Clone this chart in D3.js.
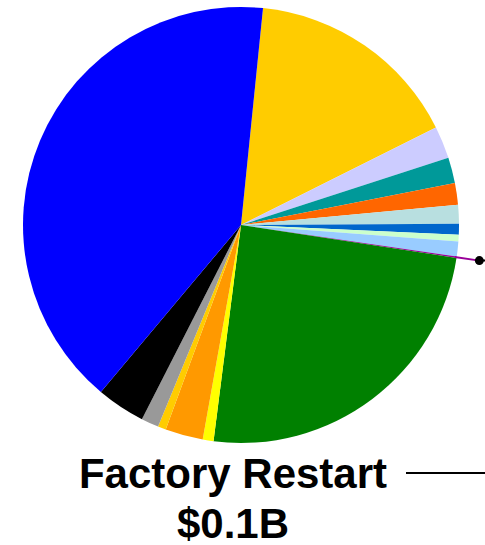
<!DOCTYPE html>
<html>
<head>
<meta charset="utf-8">
<script src="https://cdn.jsdelivr.net/npm/d3@7"></script>
<style>
  body { margin: 0; background: #fff; }
  svg { display: block; }
</style>
</head>
<body>
<div id="chart"></div>
<script>
// slice values (share of total, clockwise from the yellow slice)
var values = [16.0, 2.4, 1.9, 1.6, 1.4, 0.8, 0.5, 1.1, 0.1, 24.6, 0.8, 2.8, 0.6, 1.3, 3.6, 40.5];
var colors = ["#ffcc00", "#ccccff", "#009999", "#ff6600", "#b8dfe0", "#0066cc", "#ccffcc", "#99ccff",
              "#990099", "#008000", "#ffff00", "#ff9900", "#ffcc00", "#999999", "#000000", "#0000ff"];
var labelLines = ["Factory Restart", "$0.1B"];

var width = 485,
    height = 545;

var cx = 241, cy = 225, radius = 218;
var startDeg = 5.8;

var svg = d3.select("#chart")
  .append("svg")
  .attr("width", width)
  .attr("height", height);

var g = svg.append("g")
  .attr("transform", "translate(" + cx + "," + cy + ")");

var pie = d3.pie()
  .sort(null)
  .value(function(d) { return d; })
  .startAngle(startDeg * Math.PI / 180)
  .endAngle((startDeg + 360) * Math.PI / 180);

var arc = d3.arc()
  .innerRadius(0)
  .outerRadius(radius);

var arcs = pie(values);

g.selectAll("path.slice")
  .data(arcs)
  .enter().append("path")
  .attr("class", "slice")
  .attr("d", arc)
  .attr("fill", function(d, i) { return colors[i]; });

// leader for the tiny purple slice
var purple = arcs[8];
var mid = (purple.startAngle + purple.endAngle) / 2;
var p0 = [Math.sin(mid) * (radius - 2), -Math.cos(mid) * (radius - 2)];
var p1 = [Math.sin(mid) * (radius + 23), -Math.cos(mid) * (radius + 23)];

g.append("line")
  .attr("x1", p0[0]).attr("y1", p0[1])
  .attr("x2", p1[0]).attr("y2", p1[1])
  .attr("stroke", "#990099")
  .attr("stroke-width", 2);

g.append("line")
  .attr("x1", p1[0]).attr("y1", p1[1])
  .attr("x2", width).attr("y2", p1[1])
  .attr("stroke", "#000")
  .attr("stroke-width", 2);

g.append("circle")
  .attr("cx", p1[0]).attr("cy", p1[1])
  .attr("r", 4.5)
  .attr("fill", "#000");

// label below the pie
var label = svg.append("text")
  .attr("text-anchor", "middle")
  .style("font-family", "'Liberation Sans', Arial, sans-serif")
  .style("font-weight", "bold")
  .style("font-size", "42px")
  .attr("fill", "#000");

label.selectAll("tspan")
  .data(labelLines)
  .enter().append("tspan")
  .attr("x", 233)
  .attr("y", function(d, i) { return 488 + i * 50; })
  .text(function(d) { return d; });

svg.append("line")
  .attr("x1", 406).attr("y1", 473)
  .attr("x2", width).attr("y2", 473)
  .attr("stroke", "#000")
  .attr("stroke-width", 2);
</script>
</body>
</html>
